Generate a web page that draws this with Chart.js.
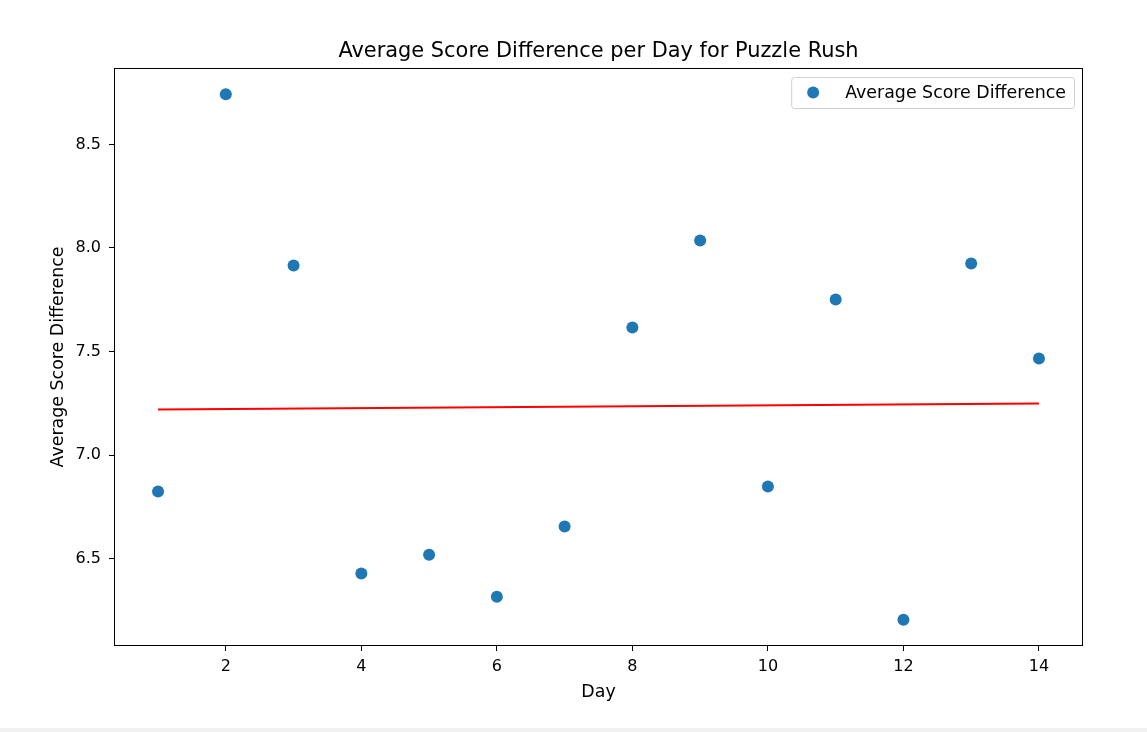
<!DOCTYPE html>
<html lang="en">
  <head>
    <meta charset="UTF-8" />
    <title>Average Score Difference per Day</title>
    <style>
      body { margin: 0; background: #f0f0f0; }
      #wrap { width: 1147px; height: 728px; background: #fff; position: relative; }
    </style>
  </head>
  <body>
    <div id="wrap"><canvas id="myChart"></canvas></div>
  </body>
</html>
<script src="https://cdn.jsdelivr.net/npm/chart.js"></script>

<script>
  // data
  const days = [1, 2, 3, 4, 5, 6, 7, 8, 9, 10, 11, 12, 13, 14];
  const avgScoreDiff = [6.824, 8.742, 7.915, 6.428, 6.519, 6.316, 6.655, 7.616, 8.036, 6.848, 7.751, 6.205, 7.925, 7.466];
  const trendDays = [1, 14];
  const trendValues = [7.22, 7.249];
  const xTickValues = [2, 4, 6, 8, 10, 12, 14];
  const yTickValues = [6.5, 7.0, 7.5, 8.0, 8.5];

  const titleText = "Average Score Difference per Day for Puzzle Rush";
  const legendText = "Average Score Difference";
  const font = "DejaVu Sans";
  const fs = 17.4;
  const blue = "#1f77b4";

  const boxAndText = {
    id: "boxAndText",
    afterDraw(chart) {
      const c = chart.ctx;
      const a = chart.chartArea;
      c.save();
      // frame
      c.strokeStyle = "#000";
      c.lineWidth = 1;
      c.strokeRect(a.left + 0.5, a.top + 0.5, a.right - a.left - 1, a.bottom - a.top - 1);
      // title
      c.fillStyle = "#000";
      c.font = "20.9px '" + font + "'";
      c.textAlign = "center";
      c.textBaseline = "middle";
      c.fillText(titleText, (a.left + a.right) / 2, a.top - 16);
      // legend
      c.font = fs + "px '" + font + "'";
      const tw = c.measureText(legendText).width;
      const bw = tw + 62, bh = 31;
      const bx = a.right - 9 - bw, by = a.top + 9;
      c.beginPath();
      c.roundRect(bx + 0.5, by + 0.5, bw, bh, 3);
      c.fillStyle = "rgba(255,255,255,0.8)";
      c.fill();
      c.strokeStyle = "#d0d0d0";
      c.stroke();
      c.beginPath();
      c.arc(bx + 22, by + bh / 2, 6, 0, Math.PI * 2);
      c.fillStyle = blue;
      c.fill();
      c.fillStyle = "#000";
      c.textAlign = "left";
      c.fillText(legendText, bx + 54, by + bh / 2 + 1);
      c.restore();
    },
  };

  const ctx = document.getElementById("myChart").getContext("2d");
  const myChart = new Chart(ctx, {
    type: "scatter",
    data: {
      datasets: [
        {
          label: legendText,
          data: days.map((d, i) => ({ x: d, y: avgScoreDiff[i] })),
          backgroundColor: blue,
          borderColor: blue,
          borderWidth: 0,
          pointRadius: 6,
          pointHoverRadius: 6,
        },
        {
          type: "line",
          label: "trend",
          data: trendDays.map((d, i) => ({ x: d, y: trendValues[i] })),
          borderColor: "#ff0000",
          borderWidth: 2,
          pointRadius: 0,
          fill: false,
        },
      ],
    },
    options: {
      responsive: true,
      maintainAspectRatio: false,
      animation: false,
      layout: { padding: { top: 68, right: 64, left: 40, bottom: 0 } },
      plugins: {
        legend: { display: false },
        title: { display: false },
        tooltip: { enabled: false },
      },
      scales: {
        x: {
          type: "linear",
          min: 0.35,
          max: 14.65,
          afterFit: (s) => { s.height = 82; },
          afterBuildTicks: (s) => { s.ticks = xTickValues.map((v) => ({ value: v })); },
          grid: { drawOnChartArea: false, drawTicks: true, tickLength: 5, color: "#000" },
          border: { display: false },
          ticks: { color: "#000", font: { family: font, size: 16 }, padding: 6, maxRotation: 0 },
          title: { display: true, text: "Day", color: "#000", font: { family: font, size: fs }, padding: 25 },
        },
        y: {
          min: 6.078,
          max: 8.869,
          afterFit: (s) => { s.width = 74; },
          afterBuildTicks: (s) => { s.ticks = yTickValues.map((v) => ({ value: v })); },
          grid: { drawOnChartArea: false, drawTicks: true, tickLength: 5, color: "#000" },
          border: { display: false },
          ticks: {
            color: "#000",
            font: { family: font, size: 16 },
            padding: 8,
            callback: (v) => Number(v).toFixed(1),
          },
          title: { display: true, text: "Average Score Difference", color: "#000", font: { family: font, size: fs }, padding: 8 },
        },
      },
    },
    plugins: [boxAndText],
  });
</script>
